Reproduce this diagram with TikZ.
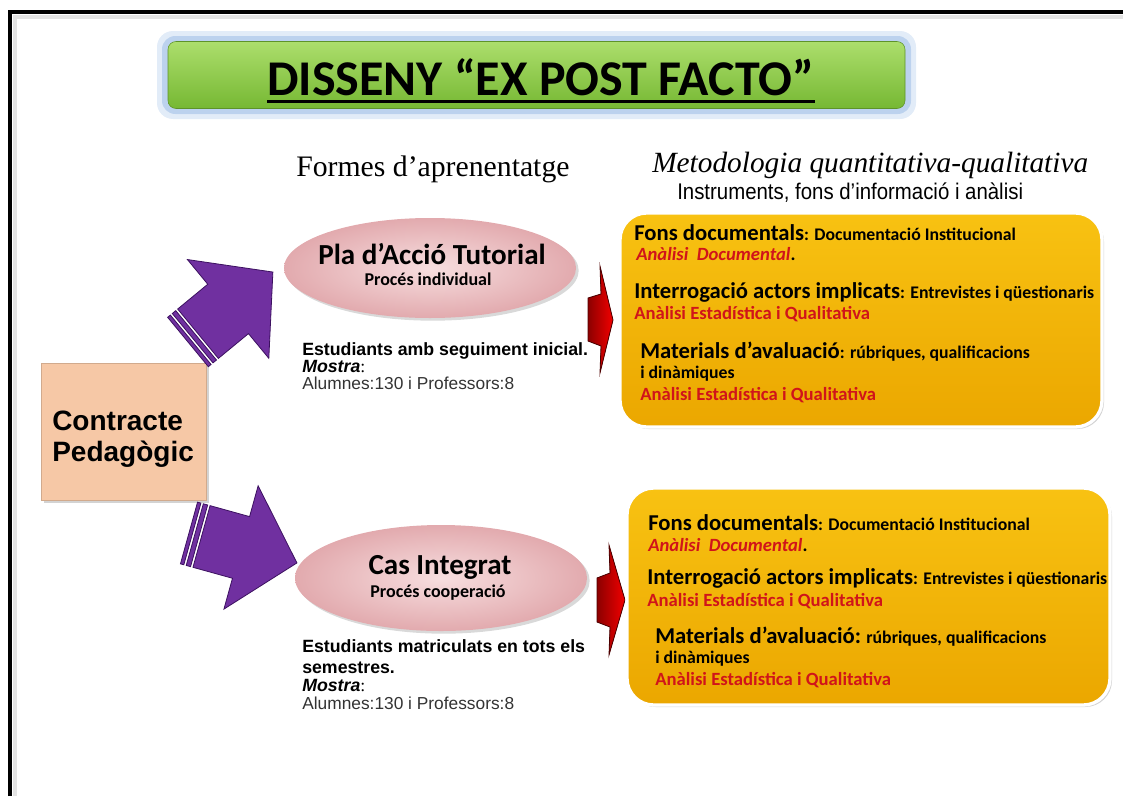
\documentclass[tikz,border=0pt]{standalone}
\usepackage{fontspec}
\setmainfont{Liberation Serif}
\newfontfamily\calibri{Carlito}
\newfontfamily\arial{Liberation Sans}
\newfontfamily\arialnarrow[FakeStretch=0.9]{Liberation Sans}
\usetikzlibrary{shapes.geometric,shadows}

\definecolor{purplearrow}{HTML}{7030A0}
\definecolor{purpleedge}{HTML}{3C1160}
\definecolor{peach}{HTML}{F6C8A6}
\definecolor{pinkout}{HTML}{E2AAAE}
\definecolor{pinkin}{HTML}{F7DEDF}
\definecolor{goldtop}{HTML}{F8C212}
\definecolor{goldbot}{HTML}{EBA700}
\definecolor{greentop}{HTML}{ACDE6C}
\definecolor{greenbot}{HTML}{76B833}
\definecolor{glowblue}{HTML}{8DB3E2}
\definecolor{txtred}{HTML}{D0141A}
\definecolor{txtgray}{HTML}{333333}

\newcommand\hlead[1]{{\fontsize{17}{20}\selectfont #1}}
\newcommand\htail[1]{{\fontsize{13.3}{16}\selectfont #1}}

\tikzset{
  infobox/.style={rounded corners=20pt, draw=white, line width=2.5pt,
    top color=goldtop, bottom color=goldbot,
    drop shadow={opacity=0.35, shadow xshift=1.5pt, shadow yshift=-1.5pt}},
  formbubble/.style={ellipse, inner sep=0pt, inner color=pinkin, outer color=pinkout,
    drop shadow={opacity=0.3, shadow xshift=2pt, shadow yshift=-2pt}},
  boxline/.style={anchor=base west, inner sep=0pt, font=\calibri\bfseries},
  redline/.style={boxline, text=txtred, font=\calibri\bfseries\fontsize{14}{16}\selectfont},
  note/.style={anchor=base west, inner sep=0pt, font=\arial\bfseries\fontsize{13.3}{15}\selectfont},
  notereg/.style={anchor=base west, inner sep=0pt, text=txtgray, font=\arial\fontsize{13}{15}\selectfont},
  stripedarrow/.style={fill=purplearrow, draw=purpleedge, line width=0.6pt, line join=miter},
  redarrow/.style={left color=red!55!black, right color=red!95!black, draw=red!30!black, line width=0.6pt}
}

\begin{document}
\begin{tikzpicture}[x=0.75pt, y=-0.75pt]
\useasboundingbox (0,0) rectangle (1123,796);

% page frame
\draw[gray!22, line width=3pt] (15,796) -- (15,17) -- (1123,17);
\draw[line width=2.3pt] (10,796) -- (10,12) -- (1123,12);

% title banner with its blue glow
\fill[glowblue, opacity=0.25, rounded corners=12pt] (157,31) rectangle (916,119);
\fill[glowblue, opacity=0.45, rounded corners=10pt] (162,36) rectangle (911,114);
\node[minimum width=552.75pt, minimum height=50.25pt, rounded corners=6pt,
      top color=greentop, bottom color=greenbot, draw=greenbot!80!black, line width=0.4pt]
      (banner) at (536.5,75) {};
\node[inner sep=0pt, font=\calibri\bfseries\fontsize{37.5}{40}\selectfont] (title) at (541,77) {DISSENY “EX POST FACTO”};
\draw[line width=2.3pt] ([yshift=-4.5pt]title.base west) -- ([yshift=-4.5pt]title.base east);

% column headings
\node[anchor=base west, inner sep=0pt, font=\fontsize{22.3}{26}\selectfont] (hforms) at (296,176) {Formes d’aprenentatge};
\node[anchor=base west, inner sep=0pt, font=\itshape\fontsize{22}{26}\selectfont] (hmetod) at (652,172) {Metodologia quantitativa-qualitativa};
\node[anchor=base west, inner sep=0pt, font=\arialnarrow\fontsize{17}{20}\selectfont] (hinstr) at (677,199) {Instruments, fons d’informació i anàlisi};

% starting point
\node[minimum width=123.75pt, minimum height=102.75pt, fill=peach, draw=peach!85!black, line width=0.4pt,
      drop shadow={opacity=0.35, shadow xshift=2pt, shadow yshift=-2pt}] (contract) at (124,431.5) {};
\node[anchor=base west, inner sep=0pt, align=left, font=\arial\bfseries\fontsize{21}{23}\selectfont] (contracttext) at (52,461) {Contracte\\Pedagògic};

% striped block arrows towards the two learning forms
\begin{scope}[shift={(188,342)}, rotate=39.5]
  \fill[stripedarrow] (0,-32) rectangle (3.5,32);
  \fill[stripedarrow] (6,-32) rectangle (10.5,32);
  \filldraw[stripedarrow] (13,-32) -- (52,-32) -- (52,-64) -- (110,0) -- (52,64) -- (52,32) -- (13,32) -- cycle;
\end{scope}
\begin{scope}[shift={(189,533)}, rotate=-15.5]
  \fill[stripedarrow] (0,-32) rectangle (3.5,32);
  \fill[stripedarrow] (6,-32) rectangle (10.5,32);
  \filldraw[stripedarrow] (13,-32) -- (54,-32) -- (54,-64) -- (112,0) -- (54,64) -- (54,32) -- (13,32) -- cycle;
\end{scope}

% learning forms
\node[formbubble, minimum width=219pt, minimum height=75pt] (pat) at (430,268) {};
\node[inner sep=0pt, font=\calibri\bfseries\fontsize{21.8}{24}\selectfont] (pattitle) at (432,254) {Pla d’Acció Tutorial};
\node[inner sep=0pt, font=\calibri\bfseries\fontsize{13.5}{16}\selectfont] (patsub) at (428,279) {Procés individual};

\node[formbubble, minimum width=219pt, minimum height=79.5pt] (cas) at (441,578) {};
\node[inner sep=0pt, font=\calibri\bfseries\fontsize{21.8}{24}\selectfont] (castitle) at (440,567) {Cas Integrat};
\node[inner sep=0pt, font=\calibri\bfseries\fontsize{13.5}{16}\selectfont] (cassub) at (438,593) {Procés cooperació};

% samples
\node[note] (patn1) at (302,355) {Estudiants amb seguiment inicial.};
\node[note] (patn2) at (302,372) {\itshape Mostra{\normalfont\mdseries:}};
\node[notereg] (patn3) at (302,389) {Alumnes:130 i Professors:8};

\node[note] (casn1) at (302,652) {Estudiants matriculats en tots els};
\node[note] (casn2) at (302,673) {semestres.};
\node[note] (casn3) at (302,691) {\itshape Mostra{\normalfont\mdseries:}};
\node[notereg] (casn4) at (302,709) {Alumnes:130 i Professors:8};

% red arrows towards the methods
\filldraw[redarrow] (600,266) -- (613,320) -- (600,373) -- (601,346) -- (588,341) -- (588,298) -- (601,294) -- cycle;
\filldraw[redarrow] (609,545) -- (625,600) -- (609,655) -- (610,627) -- (597,622) -- (597,578) -- (610,573) -- cycle;

% methods, first form
\node[infobox, minimum width=361.5pt, minimum height=160.5pt] (met1) at (861,320) {};
\node[boxline] (m1a) at (634,240) {\hlead{Fons documentals}\htail{: Documentació Institucional}};
\node[redline] (m1b) at (636,260) {\itshape Anàlisi\ \ Documental{\upshape\color{black}.}};
\node[boxline] (m1c) at (634,298) {\hlead{Interrogació actors implicats}\htail{: Entrevistes i qüestionaris}};
\node[redline] (m1d) at (634,319) {Anàlisi Estadística i Qualitativa};
\node[boxline] (m1e) at (640,358) {\hlead{Materials d’avaluació}\htail{: rúbriques, qualificacions}};
\node[boxline] (m1f) at (640,378) {\htail{i dinàmiques}};
\node[redline] (m1g) at (640,400) {Anàlisi Estadística i Qualitativa};

% methods, second form
\node[infobox, minimum width=362.25pt, minimum height=162.75pt] (met2) at (868.5,596.5) {};
\node[boxline] (m2a) at (648,530) {\hlead{Fons documentals}\htail{: Documentació Institucional}};
\node[redline] (m2b) at (648,551) {\itshape Anàlisi\ \ Documental{\upshape\color{black}.}};
\node[boxline] (m2c) at (647,584) {\hlead{Interrogació actors implicats}\htail{: Entrevistes i qüestionaris}};
\node[redline] (m2d) at (647,606) {Anàlisi Estadística i Qualitativa};
\node[boxline] (m2e) at (655,643) {\hlead{Materials d’avaluació:}\htail{ rúbriques, qualificacions}};
\node[boxline] (m2f) at (655,663) {\htail{i dinàmiques}};
\node[redline] (m2g) at (655,685) {Anàlisi Estadística i Qualitativa};
\end{tikzpicture}
\end{document}
